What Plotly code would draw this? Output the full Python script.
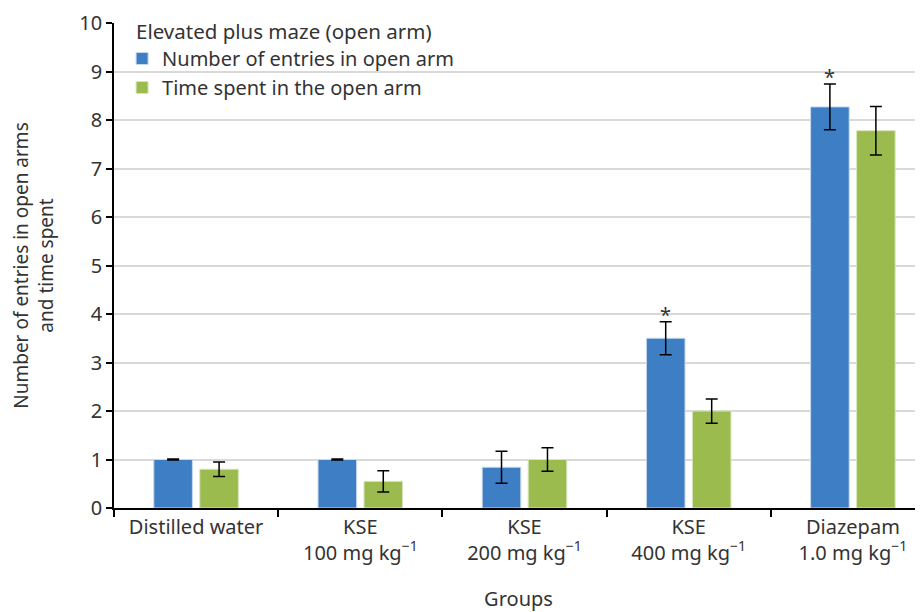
import plotly.graph_objects as go

categories = ["Distilled water", "KSE<br>100 mg kg<sup>−1</sup>", "KSE<br>200 mg kg<sup>−1</sup>",
              "KSE<br>400 mg kg<sup>−1</sup>", "Diazepam<br>1.0 mg kg<sup>−1</sup>"]
entries = [1.0, 1.0, 0.84, 3.5, 8.27]
entries_err = [0.01, 0.01, 0.33, 0.34, 0.47]
time_spent = [0.8, 0.55, 1.0, 2.0, 7.78]
time_err = [0.15, 0.22, 0.24, 0.25, 0.5]
star_groups = [3, 4]
legend_title = "Elevated plus maze (open arm)"

FONT = "Noto Sans"
TXT = "#333333"
FS = 20

fig = go.Figure()
fig.add_trace(go.Bar(
    x=categories, y=entries, name="Number of entries in open arm",
    marker=dict(color="#3d7ec4", line=dict(color="#c5d8ee", width=1)),
    width=0.235, offset=-0.2575,
    error_y=dict(type="data", array=entries_err, visible=True, color="black", thickness=1.5, width=6),
))
fig.add_trace(go.Bar(
    x=categories, y=time_spent, name="Time spent in the open arm",
    marker=dict(color="#9bbb4f", line=dict(color="#d8e6bd", width=1)),
    width=0.235, offset=0.0225,
    error_y=dict(type="data", array=time_err, visible=True, color="black", thickness=1.5, width=6),
))

for g in star_groups:
    fig.add_annotation(x=g - 0.14, y=entries[g] + entries_err[g], text="*", showarrow=False,
                       yanchor="bottom", yshift=-8, font=dict(size=FS, color=TXT, family=FONT))

fig.add_annotation(xref="paper", yref="paper", x=0.025, y=0.984, xanchor="left", yanchor="middle",
                   text=legend_title, showarrow=False, font=dict(size=20.5, color=TXT, family=FONT))

fig.update_layout(
    width=915, height=604,
    margin=dict(l=106, r=0, t=15, b=104),
    plot_bgcolor="white", paper_bgcolor="white",
    font=dict(family=FONT, size=FS, color=TXT),
    barmode="group",
    showlegend=True,
    legend=dict(x=0.01, y=0.967, xanchor="left", yanchor="top",
                font=dict(size=FS, color=TXT), bgcolor="rgba(0,0,0,0)",
                itemwidth=30, tracegroupgap=0),
)
fig.update_xaxes(
    type="category", range=[-0.5, 4.427], tickson="boundaries", automargin=False,
    showline=True, linecolor="black", linewidth=1.5,
    ticks="outside", ticklen=7, tickcolor="black", tickwidth=1.5,
    tickfont=dict(size=FS, color=TXT),
    title=dict(text="Groups", font=dict(size=FS, color=TXT), standoff=27),
)
fig.update_yaxes(
    range=[0, 10], dtick=1, showgrid=True, gridcolor="#d9d9d9", gridwidth=1.5,
    showline=True, linecolor="black", linewidth=1.5, automargin=False,
    ticks="outside", ticklen=6, tickcolor="black", tickwidth=1.5,
    tickfont=dict(size=FS, color=TXT), zeroline=False,
    title=dict(text="Number of entries in open arms<br>and time spent", font=dict(size=FS - 1, color=TXT), standoff=28),
)

fig.write_html("out.html")
